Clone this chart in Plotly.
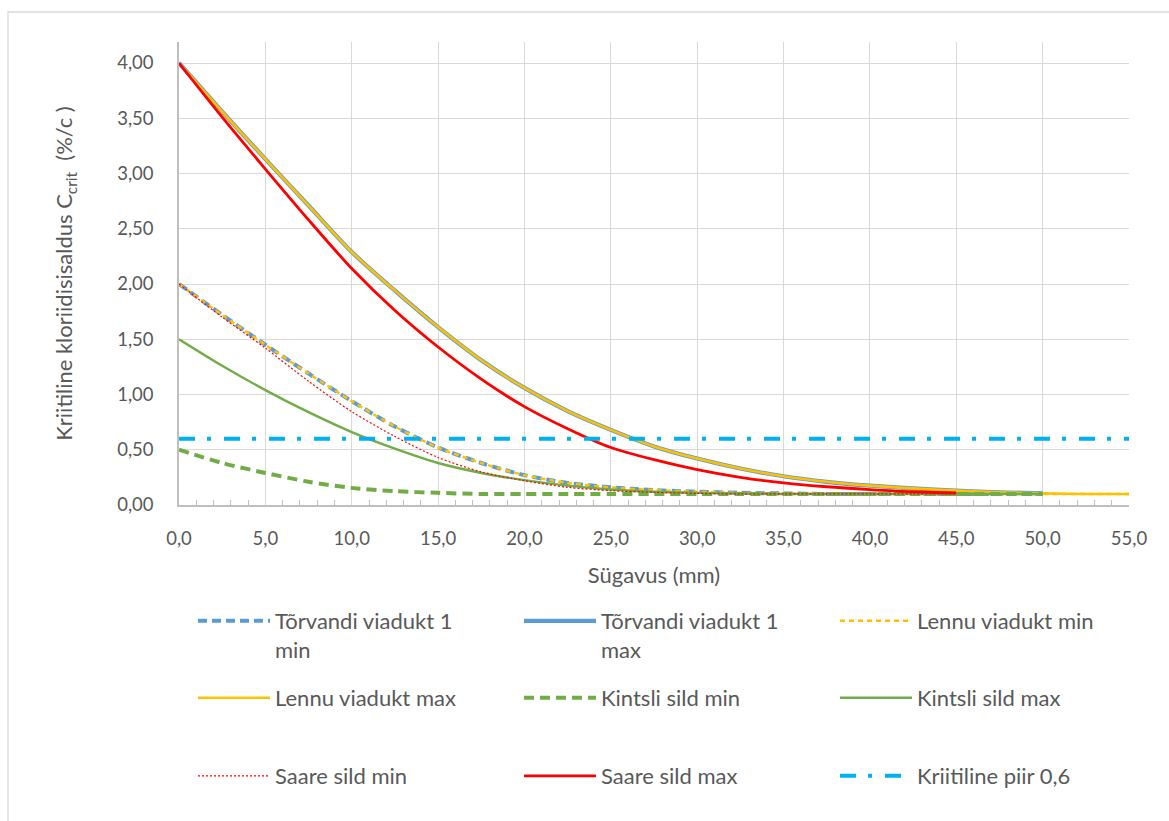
import plotly.graph_objects as go

# ---- data ----
x_mm = [0, 2.5, 5, 7.5, 10, 12.5, 15, 17.5, 20, 22.5, 25, 27.5, 30, 32.5, 35,
        37.5, 40, 42.5, 45, 47.5, 50, 52.5, 55]

torvandi_min = [2.00, 1.72, 1.45, 1.19, 0.94, 0.71, 0.52, 0.38, 0.27, 0.20, 0.16,
                0.135, 0.12, 0.11, 0.105, 0.10, 0.10, 0.10, 0.10, 0.10, 0.10]
torvandi_max = [4.00, 3.56, 3.13, 2.71, 2.29, 1.94, 1.61, 1.31, 1.06, 0.85, 0.68,
                0.53, 0.42, 0.33, 0.26, 0.21, 0.175, 0.15, 0.13, 0.115, 0.105]
lennu_min = [2.00, 1.72, 1.45, 1.19, 0.94, 0.71, 0.52, 0.38, 0.27, 0.20, 0.16,
             0.135, 0.12, 0.11, 0.105, 0.10, 0.10, 0.10, 0.10, 0.10, 0.10, 0.10, 0.10]
lennu_max = [4.00, 3.56, 3.13, 2.71, 2.29, 1.94, 1.61, 1.31, 1.06, 0.85, 0.68,
             0.53, 0.42, 0.33, 0.26, 0.21, 0.175, 0.15, 0.13, 0.115, 0.105, 0.10, 0.10]
kintsli_min = [0.50, 0.38, 0.29, 0.21, 0.155, 0.125, 0.11, 0.10, 0.10, 0.10, 0.10,
               0.10, 0.10, 0.10, 0.10, 0.10, 0.10, 0.10, 0.10, 0.10, 0.10]
kintsli_max = [1.50, 1.26, 1.04, 0.84, 0.66, 0.51, 0.38, 0.29, 0.225, 0.175, 0.14,
               0.12, 0.11, 0.105, 0.10, 0.10, 0.10, 0.10, 0.10, 0.10, 0.10]
saare_min = [2.00, 1.70, 1.42, 1.12, 0.845, 0.62, 0.43, 0.30, 0.22, 0.16, 0.13,
             0.115, 0.105, 0.10, 0.10, 0.10, 0.10, 0.10, 0.10]
saare_max = [4.00, 3.51, 3.04, 2.58, 2.14, 1.76, 1.43, 1.14, 0.89, 0.69, 0.52,
             0.41, 0.32, 0.25, 0.20, 0.165, 0.14, 0.12, 0.11]
piir_x = [0, 55]
piir_y = [0.6, 0.6]

names = ["Tõrvandi viadukt 1<br>min", "Tõrvandi viadukt 1<br>max", "Lennu viadukt min",
         "Lennu viadukt max", "Kintsli sild min", "Kintsli sild max",
         "Saare sild min", "Saare sild max", "Kriitiline piir 0,6"]

W, H = 1169, 821
L, R, T, B = 179, 1129, 42, 505
FONT = "Lato, Carlito, Calibri, sans-serif"
GREY = "#595959"

series = [
    (torvandi_min, dict(color="#5B9BD5", width=4, dash="9px,5px")),
    (torvandi_max, dict(color="#5B9BD5", width=4.2)),
    (lennu_min, dict(color="#FFC000", width=2.4, dash="5px,4px")),
    (lennu_max, dict(color="#FFC000", width=2.6)),
    (kintsli_min, dict(color="#70AD47", width=4, dash="10px,6px")),
    (kintsli_max, dict(color="#70AD47", width=2.4)),
    (saare_min, dict(color="#FF0000", width=1.2, dash="2px,2px")),
    (saare_max, dict(color="#FF0000", width=2.8)),
]

fig = go.Figure()
legend_ids = ["legend"] + ["legend%d" % i for i in range(2, 10)]
for i, (ys, line) in enumerate(series):
    fig.add_trace(go.Scatter(x=x_mm[:len(ys)], y=ys, mode="lines", name=names[i],
                             line=dict(shape="spline", smoothing=0.8, **line),
                             legend=legend_ids[i]))
fig.add_trace(go.Scatter(x=piir_x, y=piir_y, mode="lines", name=names[8],
                         line=dict(color="#00B0F0", width=4, dash="16px,12px,4px,13px"),
                         legend=legend_ids[8]))

def px2x(px):
    return (px - L) / (R - L)

def py2y(py):
    return (B - py) / (B - T)

col_px = [193, 519, 835]
row_py = [600, 677, 755]
legends = {}
for i, lid in enumerate(legend_ids):
    r, c = divmod(i, 3)
    legends[lid] = dict(x=px2x(col_px[c]), y=py2y(row_py[r]), xanchor="left", yanchor="top",
                        orientation="v", valign="top", itemwidth=72,
                        font=dict(family=FONT, size=22, color=GREY),
                        bgcolor="rgba(0,0,0,0)", borderwidth=0)

fig.update_layout(
    width=W, height=H,
    margin=dict(l=L, r=W - R, t=T, b=H - B, pad=0),
    paper_bgcolor="white", plot_bgcolor="white",
    separators=",.",
    font=dict(family=FONT, size=18, color=GREY),
    showlegend=True,
    **legends,
    xaxis=dict(range=[0, 55], dtick=5, tick0=0, tickformat=".1f",
               showgrid=True, gridcolor="#D9D9D9", gridwidth=1.3,
               showline=True, linecolor="#BFBFBF", linewidth=1.5,
               zeroline=False, ticks="", ticklabelstandoff=16,
               tickfont=dict(family=FONT, size=18.5, color=GREY),
               minor=dict(dtick=1, ticks="inside", ticklen=5, tickcolor="#BFBFBF",
                          tickwidth=1, showgrid=False),
               title=dict(text="Sügavus (mm)", standoff=20,
                          font=dict(family=FONT, size=22, color=GREY))),
    yaxis=dict(range=[0, 4.19], dtick=0.5, tick0=0, tickformat=".2f",
               showgrid=True, gridcolor="#D9D9D9", gridwidth=1.3,
               showline=True, linecolor="#BFBFBF", linewidth=1.5,
               zeroline=False, ticks="", ticklabelstandoff=20,
               tickfont=dict(family=FONT, size=18.5, color=GREY),
               title=dict(text="Kriitiline kloriidisisaldus C<sub>crit</sub>\u00a0\u00a0(%/c\u00a0)",
                          standoff=38, font=dict(family=FONT, size=22, color=GREY))),
    shapes=[dict(type="rect", xref="paper", yref="paper",
                 x0=px2x(8), x1=px2x(1300), y0=py2y(1000), y1=py2y(12),
                 line=dict(color="#D9D9D9", width=1.3), fillcolor="rgba(0,0,0,0)",
                 layer="below")],
)

fig.write_html("out.html")
